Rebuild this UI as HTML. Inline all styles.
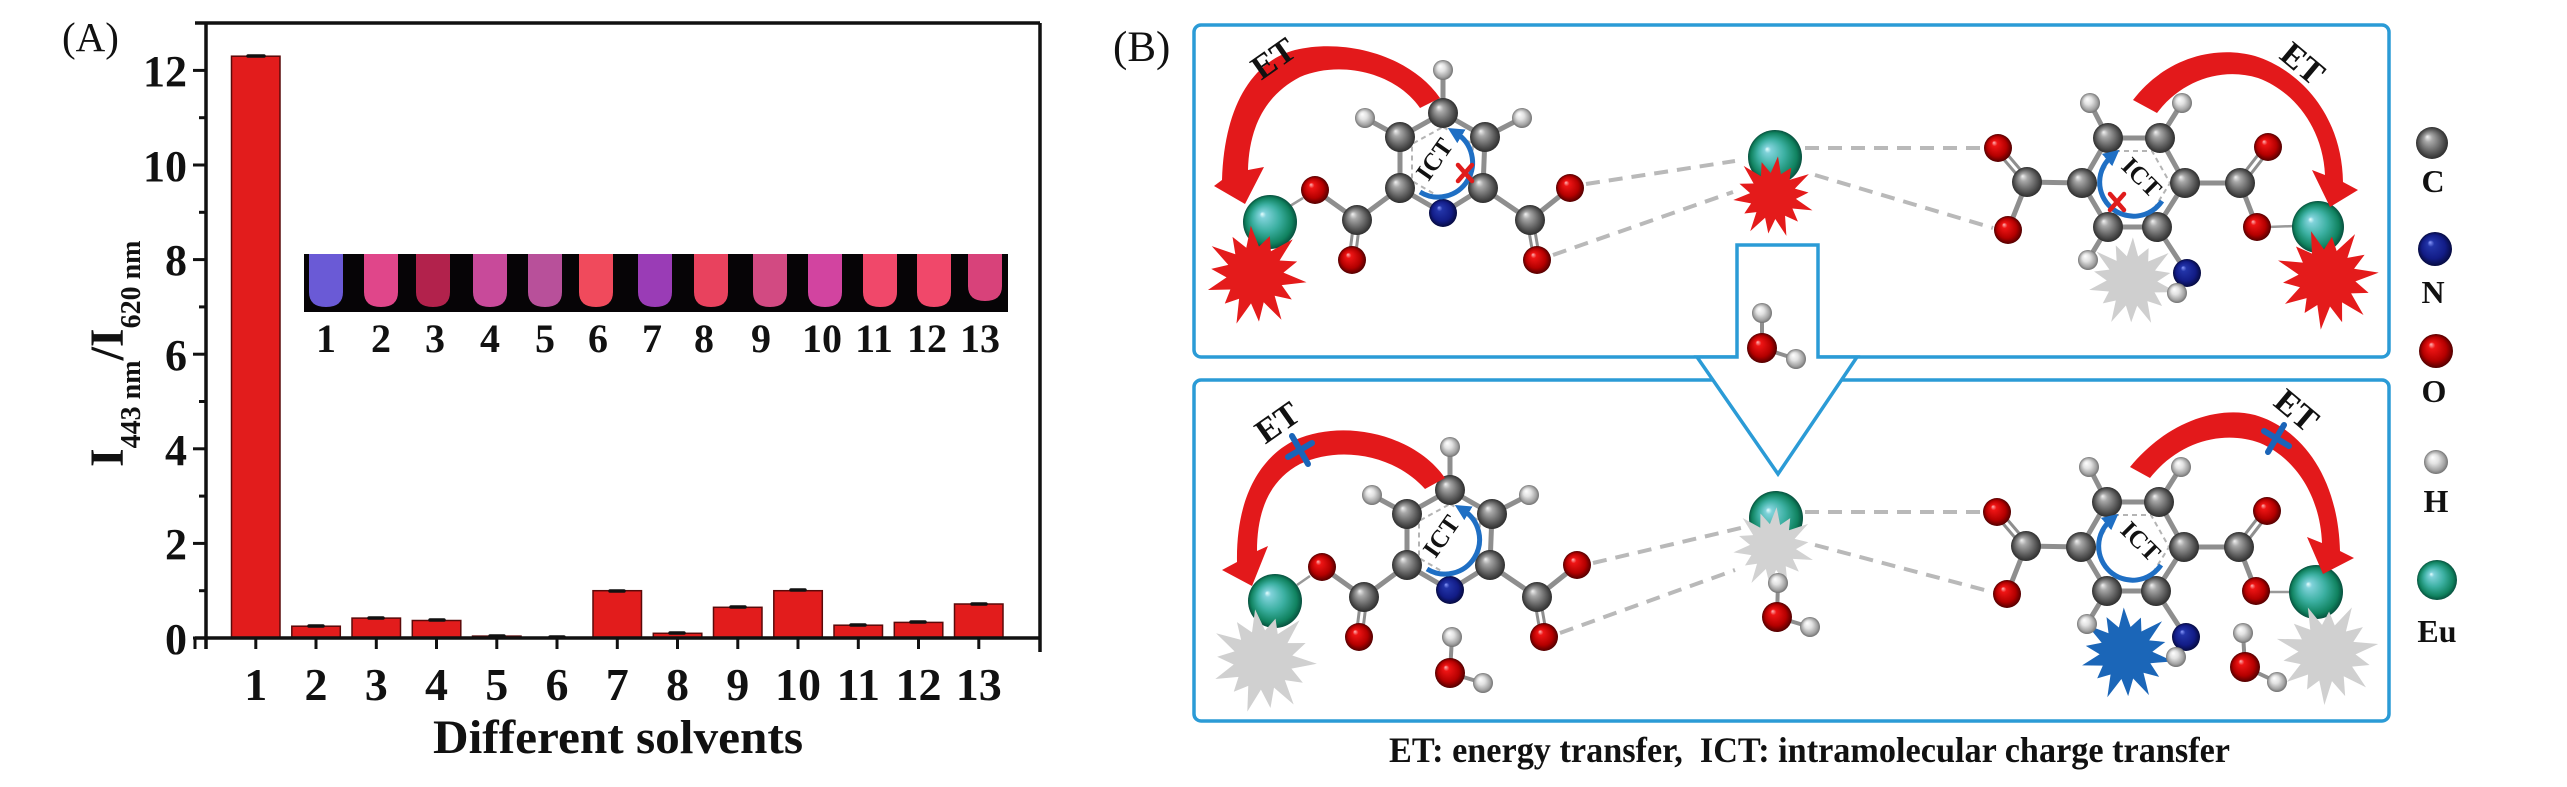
<!DOCTYPE html>
<html>
<head>
<meta charset="utf-8">
<style>
html,body{margin:0;padding:0;background:#fff;}
svg{display:block;}
</style>
</head>
<body>
<svg width="2567" height="787" viewBox="0 0 2567 787" xmlns="http://www.w3.org/2000/svg" xmlns:xlink="http://www.w3.org/1999/xlink" font-family="'Liberation Serif', serif">
<defs>
  <radialGradient id="gC" cx="0.5" cy="0.5" r="0.5" fx="0.35" fy="0.3">
    <stop offset="0" stop-color="#f2f2f2"/><stop offset="0.25" stop-color="#a8a8a8"/><stop offset="0.7" stop-color="#5e5e5e"/><stop offset="1" stop-color="#2e2e2e"/>
  </radialGradient>
  <radialGradient id="gO" cx="0.5" cy="0.5" r="0.5" fx="0.35" fy="0.3">
    <stop offset="0" stop-color="#ffb8b8"/><stop offset="0.2" stop-color="#ee1414"/><stop offset="0.7" stop-color="#b40000"/><stop offset="1" stop-color="#520000"/>
  </radialGradient>
  <radialGradient id="gN" cx="0.5" cy="0.5" r="0.5" fx="0.35" fy="0.3">
    <stop offset="0" stop-color="#8c9cff"/><stop offset="0.2" stop-color="#2234a8"/><stop offset="0.7" stop-color="#121c86"/><stop offset="1" stop-color="#060b40"/>
  </radialGradient>
  <radialGradient id="gH" cx="0.5" cy="0.5" r="0.5" fx="0.35" fy="0.3">
    <stop offset="0" stop-color="#ffffff"/><stop offset="0.4" stop-color="#e2e2e2"/><stop offset="0.8" stop-color="#a2a2a2"/><stop offset="1" stop-color="#727272"/>
  </radialGradient>
  <radialGradient id="gEu" cx="0.5" cy="0.5" r="0.5" fx="0.35" fy="0.35">
    <stop offset="0" stop-color="#e8ffff"/><stop offset="0.12" stop-color="#80d2da"/><stop offset="0.5" stop-color="#3cb0a2"/><stop offset="0.85" stop-color="#10825f"/><stop offset="1" stop-color="#07503e"/>
  </radialGradient>
  <polygon id="star" points="1,0 .536,.122 .766,.369 .430,.343 .624,.782 .239,.496 .200,.877 0,.55 -.223,.975 -.239,.496 -.499,.625 -.430,.343 -.856,.412 -.536,.122 -.85,0 -.536,-.122 -.901,-.434 -.430,-.343 -.530,-.665 -.239,-.496 -.211,-.926 0,-.55 .178,-.780 .239,-.496 .624,-.782 .430,-.343 .766,-.369 .536,-.122"/>
  <marker id="ah" viewBox="0 0 10 10" refX="4" refY="5" markerWidth="3.2" markerHeight="3.2" orient="auto">
    <path d="M0,0 L10,5 L0,10 z" fill="#1f6fc4"/>
  </marker>

  <!-- left molecule (pyridine dicarboxylate) -->
  <g id="molL">
    <g stroke="#8e8e8e" stroke-width="5" stroke-linecap="round" fill="none">
      <polygon points="0,-50 42,-26 40,25 0,50 -43,25 -43,-26"/>
      <line x1="0" y1="-50" x2="0" y2="-93"/>
      <line x1="-43" y1="-26" x2="-78" y2="-45"/>
      <line x1="42" y1="-26" x2="79" y2="-45"/>
      <line x1="-43" y1="25" x2="-86" y2="57"/>
      <line x1="-86" y1="57" x2="-128" y2="27"/>
      <line x1="40" y1="25" x2="87" y2="57"/>
      <line x1="87" y1="57" x2="127" y2="25"/>
    </g>
    <g stroke="#8e8e8e" stroke-width="3" stroke-linecap="round">
      <line x1="-89" y1="57" x2="-94" y2="97"/><line x1="-83" y1="57" x2="-88" y2="97"/>
      <line x1="84" y1="57" x2="91" y2="97"/><line x1="90" y1="57" x2="97" y2="97"/>
    </g>
    <polygon points="0,-36 30,-19 29,18 0,36 -31,18 -31,-19" fill="none" stroke="#b4b4b4" stroke-width="2" stroke-dasharray="5 4"/>
    <circle cx="0" cy="-93" r="10" fill="url(#gH)"/>
    <circle cx="-78" cy="-45" r="10" fill="url(#gH)"/>
    <circle cx="79" cy="-45" r="10" fill="url(#gH)"/>
    <circle cx="0" cy="-50" r="15" fill="url(#gC)"/>
    <circle cx="-43" cy="-26" r="15" fill="url(#gC)"/>
    <circle cx="42" cy="-26" r="15" fill="url(#gC)"/>
    <circle cx="-43" cy="25" r="15" fill="url(#gC)"/>
    <circle cx="40" cy="25" r="15" fill="url(#gC)"/>
    <circle cx="0" cy="50" r="14" fill="url(#gN)"/>
    <circle cx="-86" cy="57" r="15" fill="url(#gC)"/>
    <circle cx="87" cy="57" r="15" fill="url(#gC)"/>
    <circle cx="-128" cy="27" r="14" fill="url(#gO)"/>
    <circle cx="-91" cy="97" r="14" fill="url(#gO)"/>
    <circle cx="127" cy="25" r="14" fill="url(#gO)"/>
    <circle cx="94" cy="97" r="14" fill="url(#gO)"/>
    <path d="M-23,29 A33,33 0 1 0 13,-30" fill="none" stroke="#1f6fc4" stroke-width="5" marker-end="url(#ah)"/>
    <text x="0" y="0" transform="translate(-9,-4) rotate(-55)" text-anchor="middle" dy="0.35em" font-size="25" font-weight="bold" fill="#111">ICT</text>
  </g>

  <!-- right molecule -->
  <g id="molR">
    <g stroke="#8e8e8e" stroke-width="5" stroke-linecap="round" fill="none">
      <polygon points="-25,-45 27,-45 52,0 24,44 -25,44 -51,0"/>
      <line x1="-25" y1="-45" x2="-43" y2="-80"/>
      <line x1="27" y1="-45" x2="49" y2="-80"/>
      <line x1="-25" y1="44" x2="-45" y2="77"/>
      <line x1="24" y1="44" x2="54" y2="90"/>
      <line x1="54" y1="90" x2="44" y2="110"/>
      <line x1="52" y1="0" x2="107" y2="0"/>
      <line x1="107" y1="0" x2="124" y2="44"/>
      <line x1="-51" y1="0" x2="-106" y2="-1"/>
      <line x1="-106" y1="-1" x2="-125" y2="47"/>
    </g>
    <g stroke="#8e8e8e" stroke-width="3" stroke-linecap="round">
      <line x1="109.4" y1="1.8" x2="137.4" y2="-34.2"/><line x1="104.6" y1="-1.8" x2="132.6" y2="-37.8"/>
      <line x1="-103.7" y1="-2.9" x2="-132.7" y2="-36.9"/><line x1="-108.3" y1="0.9" x2="-137.3" y2="-33.1"/>
    </g>
    <polygon points="-18,-32 19,-32 37,0 17,32 -18,32 -37,0" fill="none" stroke="#b4b4b4" stroke-width="2" stroke-dasharray="5 4"/>
    <circle cx="-43" cy="-80" r="10" fill="url(#gH)"/>
    <circle cx="49" cy="-80" r="10" fill="url(#gH)"/>
    <circle cx="-45" cy="77" r="10" fill="url(#gH)"/>
    <circle cx="-25" cy="-45" r="15" fill="url(#gC)"/>
    <circle cx="27" cy="-45" r="15" fill="url(#gC)"/>
    <circle cx="52" cy="0" r="15" fill="url(#gC)"/>
    <circle cx="24" cy="44" r="15" fill="url(#gC)"/>
    <circle cx="-25" cy="44" r="15" fill="url(#gC)"/>
    <circle cx="-51" cy="0" r="15" fill="url(#gC)"/>
    <circle cx="107" cy="0" r="15" fill="url(#gC)"/>
    <circle cx="-106" cy="-1" r="15" fill="url(#gC)"/>
    <circle cx="135" cy="-36" r="14" fill="url(#gO)"/>
    <circle cx="124" cy="44" r="14" fill="url(#gO)"/>
    <circle cx="-135" cy="-35" r="14" fill="url(#gO)"/>
    <circle cx="-125" cy="47" r="14" fill="url(#gO)"/>
    <circle cx="54" cy="90" r="14" fill="url(#gN)"/>
    <circle cx="44" cy="110" r="10" fill="url(#gH)"/>
    <path d="M29,18 A34,34 0 1 1 -21,-27" fill="none" stroke="#1f6fc4" stroke-width="5" marker-end="url(#ah)"/>
    <text x="0" y="0" transform="translate(9,-6) rotate(45)" text-anchor="middle" dy="0.35em" font-size="25" font-weight="bold" fill="#111">ICT</text>
  </g>
</defs>

<rect x="0" y="0" width="2567" height="787" fill="#fff"/>

<!-- ================= PANEL A ================= -->
<text x="62" y="51" font-size="41" fill="#111">(A)</text>

<!-- bars -->
<g fill="#e21c1c" stroke="#5a0a0a" stroke-width="1.5">
  <rect x="231.5" y="56.2" width="48.5" height="581.8"/>
  <rect x="291.8" y="626.2" width="48.5" height="11.8"/>
  <rect x="352.0" y="618.1" width="48.5" height="19.9"/>
  <rect x="412.3" y="620.5" width="48.5" height="17.5"/>
  <rect x="472.5" y="636.1" width="48.5" height="1.9"/>
  <rect x="532.8" y="637.3" width="48.5" height="0.7"/>
  <rect x="593.0" y="590.7" width="48.5" height="47.3"/>
  <rect x="653.3" y="633.3" width="48.5" height="4.7"/>
  <rect x="713.5" y="607.3" width="48.5" height="30.7"/>
  <rect x="773.8" y="590.7" width="48.5" height="47.3"/>
  <rect x="834.0" y="625.2" width="48.5" height="12.8"/>
  <rect x="894.3" y="622.4" width="48.5" height="15.6"/>
  <rect x="954.5" y="604.0" width="48.5" height="34.0"/>
</g>
<!-- error caps -->
<g stroke="#111" stroke-width="3.5" stroke-linecap="round">
  <line x1="248" y1="56" x2="264" y2="56"/>
  <line x1="309" y1="626" x2="323" y2="626"/>
  <line x1="369" y1="618" x2="383" y2="618"/>
  <line x1="430" y1="620" x2="444" y2="620"/>
  <line x1="490" y1="636" x2="504" y2="636"/>
  <line x1="550" y1="637" x2="564" y2="637"/>
  <line x1="610" y1="591" x2="624" y2="591"/>
  <line x1="670" y1="633" x2="684" y2="633"/>
  <line x1="731" y1="607" x2="745" y2="607"/>
  <line x1="791" y1="590" x2="805" y2="590"/>
  <line x1="851" y1="625" x2="865" y2="625"/>
  <line x1="911" y1="622" x2="925" y2="622"/>
  <line x1="972" y1="604" x2="986" y2="604"/>
</g>

<!-- frame -->
<g stroke="#111" stroke-width="3.5" fill="none">
  <line x1="195" y1="23" x2="1040" y2="23"/>
  <line x1="206" y1="23" x2="206" y2="649"/>
  <line x1="1040" y1="23" x2="1040" y2="652"/>
  <line x1="195" y1="638" x2="1040" y2="638"/>
</g>
<!-- y ticks -->
<g stroke="#111" stroke-width="3">
  <line x1="193" y1="638" x2="206" y2="638"/>
  <line x1="199" y1="590.7" x2="206" y2="590.7"/>
  <line x1="193" y1="543.4" x2="206" y2="543.4"/>
  <line x1="199" y1="496.1" x2="206" y2="496.1"/>
  <line x1="193" y1="448.8" x2="206" y2="448.8"/>
  <line x1="199" y1="401.5" x2="206" y2="401.5"/>
  <line x1="193" y1="354.2" x2="206" y2="354.2"/>
  <line x1="199" y1="306.9" x2="206" y2="306.9"/>
  <line x1="193" y1="259.6" x2="206" y2="259.6"/>
  <line x1="199" y1="212.3" x2="206" y2="212.3"/>
  <line x1="193" y1="165" x2="206" y2="165"/>
  <line x1="199" y1="117.7" x2="206" y2="117.7"/>
  <line x1="193" y1="70.4" x2="206" y2="70.4"/>
</g>
<!-- x ticks -->
<g stroke="#111" stroke-width="3">
  <line x1="195" y1="638" x2="195" y2="649"/>
  <line x1="255.8" y1="638" x2="255.8" y2="649"/>
  <line x1="316" y1="638" x2="316" y2="649"/>
  <line x1="376.3" y1="638" x2="376.3" y2="649"/>
  <line x1="436.5" y1="638" x2="436.5" y2="649"/>
  <line x1="496.8" y1="638" x2="496.8" y2="649"/>
  <line x1="557" y1="638" x2="557" y2="649"/>
  <line x1="617.3" y1="638" x2="617.3" y2="649"/>
  <line x1="677.5" y1="638" x2="677.5" y2="649"/>
  <line x1="737.8" y1="638" x2="737.8" y2="649"/>
  <line x1="798" y1="638" x2="798" y2="649"/>
  <line x1="858.3" y1="638" x2="858.3" y2="649"/>
  <line x1="918.5" y1="638" x2="918.5" y2="649"/>
  <line x1="978.8" y1="638" x2="978.8" y2="649"/>
</g>
<!-- y labels -->
<g font-size="44" font-weight="bold" fill="#111" text-anchor="end">
  <text x="187" y="654">0</text>
  <text x="187" y="559">2</text>
  <text x="187" y="465">4</text>
  <text x="187" y="370">6</text>
  <text x="187" y="275">8</text>
  <text x="187" y="181">10</text>
  <text x="187" y="86">12</text>
</g>
<!-- x labels -->
<g font-size="46" font-weight="bold" fill="#111" text-anchor="middle">
  <text x="255.8" y="700">1</text>
  <text x="316" y="700">2</text>
  <text x="376.3" y="700">3</text>
  <text x="436.5" y="700">4</text>
  <text x="496.8" y="700">5</text>
  <text x="557" y="700">6</text>
  <text x="617.3" y="700">7</text>
  <text x="677.5" y="700">8</text>
  <text x="737.8" y="700">9</text>
  <text x="798" y="700">10</text>
  <text x="858.3" y="700">11</text>
  <text x="918.5" y="700">12</text>
  <text x="978.8" y="700">13</text>
</g>
<text x="618" y="753" font-size="48" font-weight="bold" fill="#111" text-anchor="middle" textLength="370" lengthAdjust="spacingAndGlyphs">Different solvents</text>
<!-- y axis title -->
<text transform="translate(123,467) rotate(-90)" font-weight="bold" fill="#111"><tspan font-size="48">I</tspan><tspan font-size="28" dy="17">443 nm</tspan><tspan font-size="48" dy="-17">/I</tspan><tspan font-size="28" dy="17">620 nm</tspan></text>

<!-- inset photo -->
<rect x="304" y="254" width="704" height="58" fill="#060406"/>
<g>
  <path d="M309,254 L309,292 Q309,307 326,307 Q343,307 343,292 L343,254Z" fill="#6a5ad6"/>
  <path d="M364,254 L364,292 Q364,307 381,307 Q398,307 398,292 L398,254Z" fill="#e0468a"/>
  <path d="M416,254 L416,292 Q416,307 433,307 Q450,307 450,292 L450,254Z" fill="#b2224c"/>
  <path d="M473,254 L473,292 Q473,307 490,307 Q507,307 507,292 L507,254Z" fill="#c84a9a"/>
  <path d="M528,254 L528,292 Q528,307 545,307 Q562,307 562,292 L562,254Z" fill="#b8509a"/>
  <path d="M579,254 L579,292 Q579,307 596,307 Q613,307 613,292 L613,254Z" fill="#f04a5c"/>
  <path d="M638,254 L638,292 Q638,307 655,307 Q672,307 672,292 L672,254Z" fill="#9a3cb6"/>
  <path d="M694,254 L694,292 Q694,307 711,307 Q728,307 728,292 L728,254Z" fill="#e8425e"/>
  <path d="M753,254 L753,292 Q753,307 770,307 Q787,307 787,292 L787,254Z" fill="#d24a82"/>
  <path d="M808,254 L808,292 Q808,307 825,307 Q842,307 842,292 L842,254Z" fill="#d244a0"/>
  <path d="M863,254 L863,292 Q863,307 880,307 Q897,307 897,292 L897,254Z" fill="#f0486a"/>
  <path d="M917,254 L917,292 Q917,307 934,307 Q951,307 951,292 L951,254Z" fill="#f0486a"/>
  <path d="M968,254 L968,286 Q968,301 985,301 Q1002,301 1002,286 L1002,254Z" fill="#d8427a"/>
</g>
<g font-size="40" font-weight="bold" fill="#111" text-anchor="middle">
  <text x="326" y="352">1</text>
  <text x="381" y="352">2</text>
  <text x="435" y="352">3</text>
  <text x="490" y="352">4</text>
  <text x="545" y="352">5</text>
  <text x="598" y="352">6</text>
  <text x="652" y="352">7</text>
  <text x="704" y="352">8</text>
  <text x="761" y="352">9</text>
  <text x="822" y="352">10</text>
  <text x="874" y="352">11</text>
  <text x="927" y="352">12</text>
  <text x="980" y="352">13</text>
</g>

<!-- ================= PANEL B ================= -->
<text x="1113" y="61" font-size="43" fill="#111">(B)</text>

<!-- boxes -->
<rect x="1194" y="25" width="1195" height="332" rx="7" fill="none" stroke="#2b9bd6" stroke-width="3.5"/>
<rect x="1194" y="380" width="1195" height="341" rx="7" fill="none" stroke="#2b9bd6" stroke-width="3.5"/>
<!-- big hollow arrow -->
<path d="M1737,357 L1737,245 L1818,245 L1818,357 L1857,357 L1778,474 L1697,357 Z" fill="#fff" stroke="#2b9bd6" stroke-width="3.5" stroke-linejoin="miter"/>
<rect x="1739" y="350" width="77" height="14" fill="#fff"/>

<!-- dashed coordination lines -->
<g stroke="#b9b9b9" stroke-width="4" stroke-dasharray="14 9" fill="none">
  <line x1="1586" y1="184" x2="1735" y2="161"/>
  <line x1="1553" y1="255" x2="1733" y2="192"/>
  <line x1="1805" y1="148" x2="1982" y2="148"/>
  <line x1="1815" y1="175" x2="1993" y2="228"/>
  <line x1="1593" y1="563" x2="1745" y2="527"/>
  <line x1="1560" y1="633" x2="1735" y2="570"/>
  <line x1="1805" y1="512" x2="1982" y2="512"/>
  <line x1="1815" y1="545" x2="1992" y2="592"/>
</g>
<g stroke="#999" stroke-width="2.5">
  <line x1="1303" y1="198" x2="1290" y2="206"/>
  <line x1="2268" y1="227" x2="2295" y2="226"/>
  <line x1="1310" y1="576" x2="1297" y2="585"/>
  <line x1="2267" y1="592" x2="2292" y2="592"/>
</g>

<!-- Eu spheres -->
<circle cx="1270" cy="222" r="27" fill="url(#gEu)"/>
<circle cx="1775" cy="157" r="27" fill="url(#gEu)"/>
<circle cx="2318" cy="227" r="26" fill="url(#gEu)"/>
<circle cx="1275" cy="601" r="27" fill="url(#gEu)"/>
<circle cx="1776" cy="518" r="27" fill="url(#gEu)"/>
<circle cx="2316" cy="592" r="27" fill="url(#gEu)"/>

<!-- bursts -->
<use xlink:href="#star" href="#star" transform="translate(1255,275) scale(52) rotate(8)" fill="#e41b1b"/>
<use xlink:href="#star" href="#star" transform="translate(1773,196) scale(42) rotate(20)" fill="#e41b1b"/>
<use xlink:href="#star" href="#star" transform="translate(2327,278) scale(52) rotate(-6)" fill="#e41b1b"/>
<use xlink:href="#star" href="#star" transform="translate(2132,281) scale(46) rotate(14)" fill="#cfcfcf"/>
<use xlink:href="#star" href="#star" transform="translate(1263,660) scale(54) rotate(4)" fill="#d0d0d0"/>
<use xlink:href="#star" href="#star" transform="translate(1773,547) scale(42) rotate(18)" fill="#d2d2d2"/>
<use xlink:href="#star" href="#star" transform="translate(2327,653) scale(52) rotate(-10)" fill="#d0d0d0"/>
<use xlink:href="#star" href="#star" transform="translate(2126,653) scale(48) rotate(10)" fill="#1b66b8"/>

<!-- molecules -->
<use xlink:href="#molL" href="#molL" transform="translate(1443,163)"/>
<use xlink:href="#molL" href="#molL" transform="translate(1450,540)"/>
<use xlink:href="#molR" href="#molR" transform="translate(2133,183)"/>
<use xlink:href="#molR" href="#molR" transform="translate(2132,547)"/>

<!-- red X marks on ICT (top) -->
<g stroke="#e01c1c" stroke-width="4.5" stroke-linecap="round">
  <path d="M1458,165 L1472,181 M1458,181 L1472,165"/>
  <path d="M2110,194 L2124,210 M2110,210 L2124,194"/>
</g>

<!-- water molecules -->
<g stroke="#8e8e8e" stroke-width="4" stroke-linecap="round">
  <line x1="1762" y1="313" x2="1762" y2="348"/><line x1="1762" y1="348" x2="1796" y2="359"/>
  <line x1="1452" y1="637" x2="1450" y2="673"/><line x1="1450" y1="673" x2="1483" y2="683"/>
  <line x1="1778" y1="583" x2="1777" y2="617"/><line x1="1777" y1="617" x2="1810" y2="627"/>
  <line x1="2243" y1="633" x2="2245" y2="667"/><line x1="2245" y1="667" x2="2277" y2="682"/>
</g>
<circle cx="1762" cy="313" r="10" fill="url(#gH)"/>
<circle cx="1762" cy="348" r="15" fill="url(#gO)"/>
<circle cx="1796" cy="359" r="10" fill="url(#gH)"/>
<circle cx="1452" cy="637" r="10" fill="url(#gH)"/>
<circle cx="1450" cy="673" r="15" fill="url(#gO)"/>
<circle cx="1483" cy="683" r="10" fill="url(#gH)"/>
<circle cx="1778" cy="583" r="10" fill="url(#gH)"/>
<circle cx="1777" cy="617" r="15" fill="url(#gO)"/>
<circle cx="1810" cy="627" r="10" fill="url(#gH)"/>
<circle cx="2243" cy="633" r="10" fill="url(#gH)"/>
<circle cx="2245" cy="667" r="15" fill="url(#gO)"/>
<circle cx="2277" cy="682" r="10" fill="url(#gH)"/>

<!-- ET arrows -->
<g fill="#e3191b">
  <path d="M1440,98 C1410,55 1345,38 1295,50 C1250,62 1224,110 1222,180 L1214,186 L1245,204 L1264,167 L1248,170 C1249,128 1265,95 1300,77 C1340,60 1395,72 1420,108 Z"/>
  <path d="M2133,100 C2165,58 2215,45 2255,56 C2300,70 2342,115 2343,182 L2358,190 L2330,207 L2312,170 L2325,175 C2323,130 2296,92 2258,78 C2222,67 2182,80 2157,113 Z"/>
  <path d="M1445,478 C1415,435 1345,418 1295,440 C1255,460 1236,505 1237,562 L1222,570 L1252,586 L1268,546 L1257,551 C1257,510 1270,480 1300,464 C1340,445 1395,455 1425,489 Z"/>
  <path d="M2130,467 C2165,424 2215,405 2255,415 C2300,428 2338,475 2340,551 L2354,558 L2323,574 L2307,537 L2322,543 C2320,495 2295,458 2260,443 C2225,430 2180,440 2150,478 Z"/>
</g>
<!-- blue X on blocked ET -->
<g stroke="#1a64b8" stroke-width="6" stroke-linecap="round">
  <path d="M1292,436 L1308,464 M1288,457 L1312,443"/>
  <path d="M2284,425 L2268,452 M2264,431 L2289,446"/>
</g>
<!-- ET labels -->
<g font-size="34" font-weight="bold" fill="#111" text-anchor="middle">
  <text transform="translate(1273,58) rotate(-35)" dy="0.35em">ET</text>
  <text transform="translate(2303,63) rotate(40)" dy="0.35em">ET</text>
  <text transform="translate(1277,422) rotate(-35)" dy="0.35em">ET</text>
  <text transform="translate(2297,410) rotate(40)" dy="0.35em">ET</text>
</g>

<!-- legend -->
<circle cx="2432" cy="143" r="16" fill="url(#gC)"/>
<circle cx="2435" cy="249" r="17" fill="url(#gN)"/>
<circle cx="2436" cy="351" r="17" fill="url(#gO)"/>
<circle cx="2436" cy="462" r="12" fill="url(#gH)"/>
<circle cx="2437" cy="580" r="20" fill="url(#gEu)"/>
<g font-size="32" font-weight="bold" fill="#111" text-anchor="middle">
  <text x="2433" y="192">C</text>
  <text x="2433" y="303">N</text>
  <text x="2434" y="402">O</text>
  <text x="2436" y="512">H</text>
  <text x="2437" y="642">Eu</text>
</g>

<!-- caption -->
<text x="1389" y="762" font-size="36" font-weight="bold" fill="#111" textLength="841" lengthAdjust="spacingAndGlyphs" xml:space="preserve">ET: energy transfer,  ICT: intramolecular charge transfer</text>
</svg>
</body>
</html>
